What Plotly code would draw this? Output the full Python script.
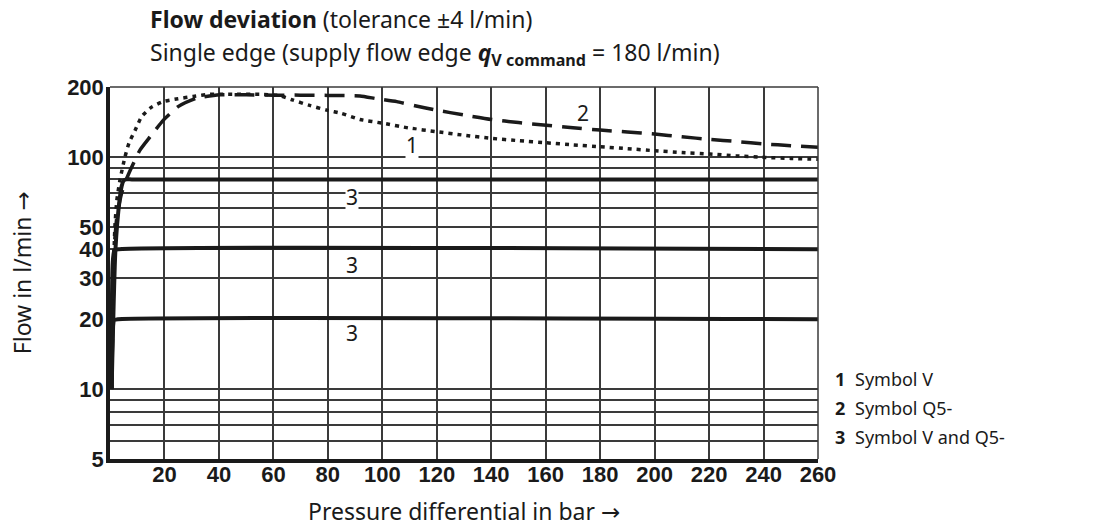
import math
import plotly.graph_objects as go

# ---- data ----
pressure_v = [0.6, 0.9, 1.2, 1.8, 2.5, 3.7, 5.5, 7.0, 9.2, 11.6, 15, 19.5, 25, 30.5, 36.7, 45, 55, 62, 67,
              73, 79.6, 85, 91.8, 100.4, 110, 119.8, 130, 140, 150, 160.2, 170, 180, 190, 200, 210, 220.3,
              230, 240.5, 250, 260]
flow_v = [10, 20, 30, 50, 65, 80, 100, 115, 130, 149, 163, 173, 178, 182, 186, 186, 186, 184, 176,
          167, 159, 154, 145, 139.5, 133, 128.4, 124, 120.2, 117.5, 115, 112.7, 110.6, 108.5, 106.3, 104.5,
          102.9, 101, 99.5, 98.5, 97.6]

pressure_q5 = [0.7, 1.0, 1.5, 2.5, 3.3, 4.3, 6, 7.9, 11, 14.7, 19.6, 25, 31.8, 40.4, 50, 60, 70, 80,
               91.8, 98, 105.3, 112, 119.8, 130, 140, 150, 160.2, 170, 180, 190, 200, 210, 220.3, 230,
               240.5, 250, 260]
flow_q5 = [10, 20, 40, 55, 62, 70, 80, 90, 107, 122, 144, 164.6, 179, 185, 185, 184.5, 184.5, 184,
           183, 178, 173, 166, 159, 151.5, 145, 140.5, 137, 133.5, 130.5, 128, 125.4, 122, 119, 116.5,
           113.6, 111.8, 110]

pressure_80 = [0.6, 2.0, 3.5, 4.3, 5.0, 6.0, 8.0, 260]
flow_80 = [10, 40, 65, 75, 79, 80, 80, 80]
pressure_40 = [0.5, 1.0, 1.6, 3.0, 260]
flow_40 = [10, 35, 39.5, 40, 40]
pressure_20 = [0.5, 1.0, 1.5, 3.0, 260]
flow_20 = [10, 18, 19.8, 20, 20]

x_ticks = [20, 40, 60, 80, 100, 120, 140, 160, 180, 200, 220, 240, 260]
x_labels = ["20", "40", "60", "80", "100", "120", "140", "160", "180", "200", "220", "240", "260"]
y_ticks = [5, 10, 20, 30, 40, 50, 100, 200]
y_labels = ["5", "10", "20", "30", "40", "50", "100", "200"]
y_minor = [6, 7, 8, 9, 60, 70, 80, 90]

curve_labels = [("1", 110.8, 112.5, True), ("2", 173.7, 154, False), ("3", 89, 67.3, True),
                ("3", 89, 34.2, False), ("3", 89, 17.4, False)]
legend_items = [("1", "Symbol V"), ("2", "Symbol Q5-"), ("3", "Symbol V and Q5-")]

INK = "#1a1a1a"
GRID = "#3a3a3a"
TEXT_FONT = "Noto Sans, Open Sans, DejaVu Sans, sans-serif"
TICK_FONT = "Liberation Sans, Arial, DejaVu Sans, sans-serif"

fig = go.Figure()

for xs, ys in [(pressure_80, flow_80), (pressure_40, flow_40), (pressure_20, flow_20)]:
    fig.add_trace(go.Scatter(x=xs, y=ys, mode="lines",
                             line=dict(color=INK, width=4, shape="spline", smoothing=0.6),
                             hoverinfo="skip", showlegend=False))

fig.add_trace(go.Scatter(x=pressure_q5, y=flow_q5, mode="lines",
                         line=dict(color=INK, width=3.5, dash="20px,10px", shape="spline", smoothing=0.5),
                         showlegend=False))
fig.add_trace(go.Scatter(x=pressure_v, y=flow_v, mode="lines",
                         line=dict(color=INK, width=3.5, dash="4px,5px", shape="spline", smoothing=0.5),
                         showlegend=False))

fig.update_xaxes(range=[0, 260], tickvals=x_ticks, ticktext=["<b>%s</b>" % t for t in x_labels],
                 showgrid=True, gridcolor=GRID, gridwidth=1.5, zeroline=False,
                 showline=True, linecolor=INK, linewidth=3.5, ticks="", ticklabelstandoff=-7,
                 tickfont=dict(family=TICK_FONT, size=22, color=INK))
fig.update_yaxes(type="log", range=[math.log10(5), math.log10(200)], tickvals=y_ticks,
                 ticktext=["<b>%s</b>" % t for t in y_labels],
                 showgrid=True, gridcolor=GRID, gridwidth=1.5, zeroline=False,
                 minor=dict(tickvals=y_minor, showgrid=True, gridcolor=GRID, gridwidth=1.5, ticks=""),
                 showline=True, linecolor=INK, linewidth=3.5, ticks="", ticklabelstandoff=-2,
                 tickfont=dict(family=TICK_FONT, size=22, color=INK))

# top and right borders
fig.add_shape(type="line", xref="paper", yref="paper", x0=0, x1=1, y0=1, y1=1,
              line=dict(color=GRID, width=1.5))
fig.add_shape(type="line", xref="paper", yref="paper", x0=1, x1=1, y0=0, y1=1,
              line=dict(color=GRID, width=1.5))

for txt, xv, yv, bg in curve_labels:
    fig.add_annotation(x=xv, y=math.log10(yv), yref="y", xref="x", text=txt, showarrow=False,
                       xanchor="center", yanchor="middle",
                       font=dict(family=TEXT_FONT, size=21, color=INK),
                       bgcolor="white" if bg else "rgba(0,0,0,0)", borderpad=0)

fig.add_annotation(xref="paper", yref="paper", x=0.0537, y=1.183, xanchor="left", yanchor="middle",
                   text="<b>Flow deviation</b> (tolerance ±4 l/min)", showarrow=False,
                   font=dict(family=TEXT_FONT, size=23, color=INK))
fig.add_annotation(xref="paper", yref="paper", x=0.0537, y=1.089, xanchor="left", yanchor="middle",
                   text="Single edge (supply flow edge <b><i>q</i></b><sub><b>V command</b></sub> = 180 l/min)",
                   showarrow=False, font=dict(family=TEXT_FONT, size=23, color=INK))

fig.add_annotation(xref="paper", yref="paper", x=-0.124, y=0.5, textangle=-90,
                   xanchor="center", yanchor="middle",
                   text="Flow in l/min →", showarrow=False,
                   font=dict(family=TEXT_FONT, size=23, color=INK))
fig.add_annotation(xref="paper", yref="paper", x=0.5, y=-0.14, xanchor="center", yanchor="middle",
                   text="Pressure differential in bar →", showarrow=False,
                   font=dict(family=TEXT_FONT, size=23, color=INK))

for i, (num, lab) in enumerate(legend_items):
    yp = 0.215 - i * 0.078
    fig.add_annotation(xref="paper", yref="paper", x=1.021, y=yp, xanchor="left", yanchor="middle",
                       text="<b>%s</b>" % num,
                       showarrow=False, font=dict(family=TEXT_FONT, size=18, color=INK))
    fig.add_annotation(xref="paper", yref="paper", x=1.049, y=yp, xanchor="left", yanchor="middle",
                       text=lab, showarrow=False, font=dict(family=TEXT_FONT, size=18, color=INK))

# page body has an 8px margin; compensate so the plot area lands where the reference has it
fig.update_layout(width=1085, height=522, margin=dict(l=102, r=275, t=79, b=71),
                  plot_bgcolor="white", paper_bgcolor="white", showlegend=False)

fig.write_html("out.html")
